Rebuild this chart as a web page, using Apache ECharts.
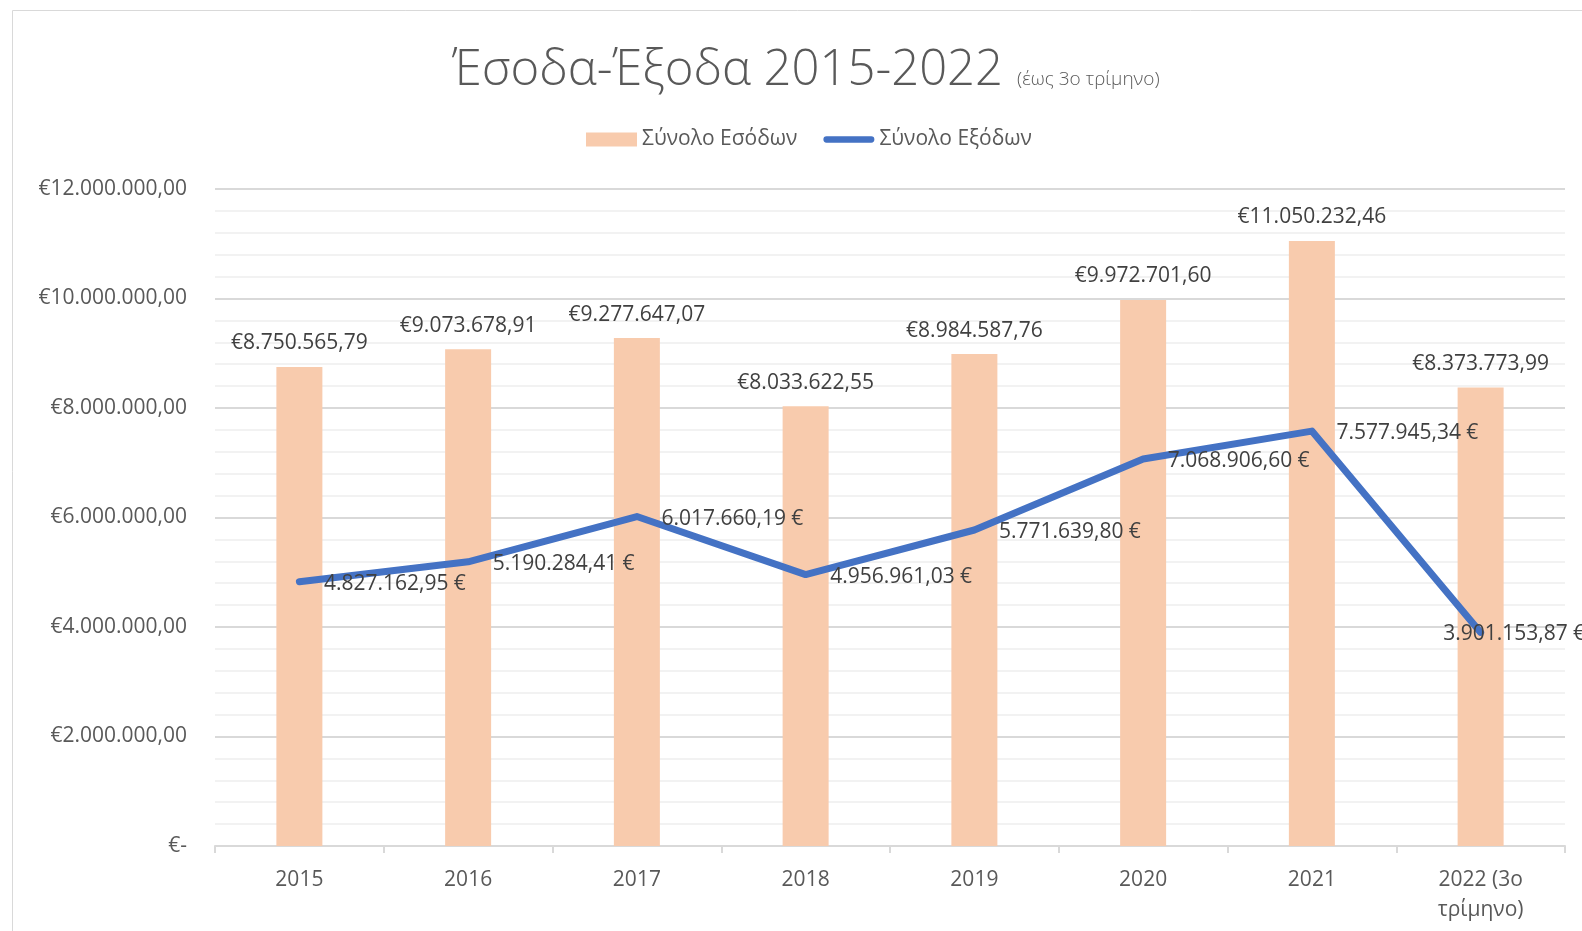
<!DOCTYPE html>
<html>
<head>
<meta charset="utf-8">
<script src="https://cdn.jsdelivr.net/npm/echarts@6/dist/echarts.min.js"></script>
<style>
  html, body { margin: 0; padding: 0; background: #fff; }
  #chart { width: 1582px; height: 931px; }
</style>
</head>
<body>
<div id="chart"></div>
<script>
const years = ['2015', '2016', '2017', '2018', '2019', '2020', '2021', '2022 (3ο\nτρίμηνο)'];
const incomeTotals = [8750565.79, 9073678.91, 9277647.07, 8033622.55, 8984587.76, 9972701.60, 11050232.46, 8373773.99];
const expenseTotals = [4827162.95, 5190284.41, 6017660.19, 4956961.03, 5771639.80, 7068906.60, 7577945.34, 3901153.87];
const yTicks = [0, 2000000, 4000000, 6000000, 8000000, 10000000, 12000000];

// greek number format: 1.234.567,89
function fmt(v) {
  let parts = v.toFixed(2).split('.');
  let int = parts[0].replace(/\B(?=(\d{3})+(?!\d))/g, '.');
  return int + ',' + parts[1];
}

const FONT = '"Open Sans", "Noto Sans", sans-serif';

let myChart = echarts.init(document.getElementById('chart'));

let lineData = expenseTotals.map((v, i) => {
  if (i === expenseTotals.length - 1) {
    // excel pushes the last label back to the left
    return { value: v, label: { offset: [-62, 2] } };
  }
  return v;
});

myChart.setOption({
  animation: false,
  textStyle: { fontFamily: FONT },
  graphic: [
    {
      type: 'rect',
      shape: { x: 12.5, y: 10.5, width: 1600, height: 960 },
      style: { fill: 'none', stroke: '#D9D9D9', lineWidth: 1 },
      silent: true,
      z: -1
    }
  ],
  title: {
    text: '{a|Έσοδα-Έξοδα 2015-2022}{b|(έως 3ο τρίμηνο)}',
    left: 447,
    top: 42,
    textStyle: {
      rich: {
        a: { fontFamily: FONT, fontSize: 49, fontWeight: 300, color: '#595959', verticalAlign: 'bottom' },
        b: { fontFamily: FONT, fontSize: 19, fontWeight: 300, color: '#595959', verticalAlign: 'bottom', padding: [0, 0, 7, 14] }
      }
    }
  },
  legend: {
    left: 581,
    top: 124,
    itemGap: 26,
    itemWidth: 51,
    itemHeight: 14,
    textStyle: { fontSize: 21, color: '#595959', fontFamily: FONT },
    data: [
      { name: 'Σύνολο Εσόδων', icon: 'rect' },
      { name: 'Σύνολο Εξόδων', icon: 'path://M3.5,0 h50 a3.5,3.5 0 0 1 0,7 h-50 a3.5,3.5 0 0 1 0,-7 z' }
    ]
  },
  grid: {
    left: 215,
    right: 17,
    top: 189,
    bottom: 85,
    containLabel: false
  },
  xAxis: {
    type: 'category',
    data: years,
    axisLine: { lineStyle: { color: '#D9D9D9', width: 2 } },
    axisTick: { show: true, length: 7, lineStyle: { color: '#D9D9D9', width: 2 } },
    axisLabel: { color: '#595959', fontSize: 21, margin: 19, lineHeight: 30 },
    splitLine: { show: false }
  },
  yAxis: {
    type: 'value',
    min: 0,
    max: 12000000,
    interval: 2000000,
    axisLine: { show: false },
    axisTick: { show: false },
    axisLabel: {
      color: '#595959',
      fontSize: 21,
      margin: 28,
      formatter: v => v === 0 ? '€-' : '€' + fmt(v)
    },
    splitLine: { lineStyle: { color: '#D9D9D9', width: 2 } },
    minorTick: { show: false, splitNumber: 5 },
    minorSplitLine: { show: true, lineStyle: { color: '#F2F2F2', width: 2 } }
  },
  series: [
    {
      name: 'Σύνολο Εσόδων',
      type: 'bar',
      data: incomeTotals,
      barWidth: 46,
      itemStyle: { color: '#F8CBAD' },
      label: {
        show: true,
        position: 'top',
        distance: 13,
        fontSize: 21,
        color: '#404040',
        formatter: p => '€' + fmt(p.value)
      }
    },
    {
      name: 'Σύνολο Εξόδων',
      type: 'line',
      data: lineData,
      symbol: 'circle',
      symbolSize: 1,
      itemStyle: { color: '#4472C4' },
      lineStyle: { color: '#4472C4', width: 7, cap: 'round', join: 'round' },
      label: {
        show: true,
        position: 'right',
        distance: 24,
        offset: [0, 2],
        fontSize: 21,
        color: '#404040',
        formatter: p => fmt(p.value) + ' €'
      },
      z: 3
    }
  ]
});
</script>
</body>
</html>
